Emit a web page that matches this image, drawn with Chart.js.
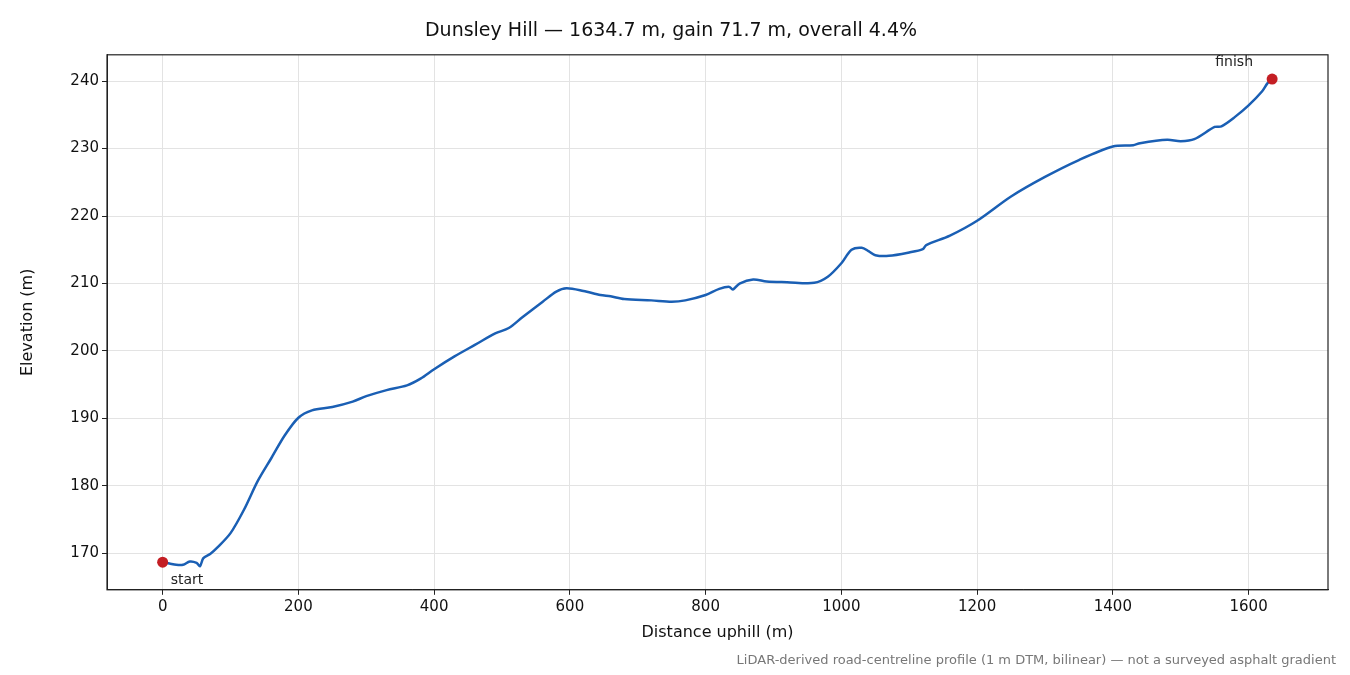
<!DOCTYPE html>
<html><head><meta charset="utf-8">
<script src="https://cdn.jsdelivr.net/npm/chart.js@4"></script>
<style>html,body{margin:0;padding:0;background:#fff}#w{width:1350px;height:675px;position:relative}</style>
</head><body><div id="w"><canvas id="c" width="1350" height="675"></canvas></div>
<script>
const distances=[0,10,20,30,40,50,55,60,70,80,100,120,140,160,180,200,220,250,280,300,330,360,380,400,430,460,490,510,530,560,580,595,620,645,660,680,720,750,770,800,820,835,840,850,870,890,920,960,980,1000,1015,1030,1040,1050,1070,1100,1120,1125,1160,1200,1250,1300,1350,1400,1430,1440,1480,1500,1520,1550,1560,1580,1600,1620,1628,1635];
const elevations=[168.7,168.5,168.3,168.3,168.8,168.6,168.1,169.3,169.9,170.8,173.0,176.5,180.7,184.1,187.5,190.1,191.2,191.7,192.5,193.3,194.2,194.9,195.9,197.3,199.2,200.9,202.6,203.4,205.0,207.3,208.8,209.3,208.9,208.3,208.1,207.7,207.5,207.3,207.5,208.3,209.2,209.5,209.1,210.0,210.6,210.3,210.2,210.1,211.0,213.0,215.0,215.3,214.8,214.2,214.1,214.6,215.1,215.7,217.1,219.3,222.9,225.8,228.3,230.3,230.5,230.8,231.3,231.1,231.4,233.2,233.3,234.7,236.4,238.5,239.7,240.3];
const endpoints=[{x:0,y:168.7,label:'start'},{x:1634.7,y:240.3,label:'finish'}];
const xTicks=[0,200,400,600,800,1000,1200,1400,1600];
const yTicks=[170,180,190,200,210,220,230,240];
const titleText='Dunsley Hill — 1634.7 m, gain 71.7 m, overall 4.4%';
const noteText='LiDAR-derived road-centreline profile (1 m DTM, bilinear) — not a surveyed asphalt gradient';
const F='"DejaVu Sans", sans-serif';
const labels={id:'lbl',afterDraw(ch){const c=ch.ctx,xs=ch.scales.x,ys=ch.scales.y;c.save();c.font='14px '+F;c.fillStyle='#222';
 c.textAlign='left';c.textBaseline='top';c.fillText('start',xs.getPixelForValue(endpoints[0].x)+8,ys.getPixelForValue(endpoints[0].y)+11);
 c.textAlign='center';c.textBaseline='bottom';c.fillText('finish',xs.getPixelForValue(endpoints[1].x)-38,ys.getPixelForValue(endpoints[1].y)-10);
 c.font='13px '+F;c.fillStyle='#777';c.textAlign='right';c.textBaseline='alphabetic';c.fillText(noteText,1336,664);
 const a=ch.chartArea;c.strokeStyle='#222';c.lineWidth=1.2;c.strokeRect(a.left,a.top,a.right-a.left,a.bottom-a.top);c.restore();}};
new Chart(document.getElementById('c'),{type:'scatter',
data:{datasets:[{data:distances.map((d,i)=>({x:d,y:elevations[i]})),showLine:true,borderColor:'#1a5fb4',borderWidth:2.5,pointRadius:0,tension:0.3,order:2},
{data:endpoints.map(p=>({x:p.x,y:p.y})),pointRadius:5.5,pointBackgroundColor:'#c41e24',pointBorderWidth:0,showLine:false,order:1}]},
options:{responsive:false,animation:false,layout:{padding:{left:14,right:22,top:6,bottom:29}},
plugins:{legend:{display:false},tooltip:{enabled:false},title:{display:true,text:titleText,color:'#111',font:{family:F,size:19,weight:'normal'},padding:{top:14,bottom:12}}},
scales:{x:{type:'linear',min:-82,max:1717,afterBuildTicks:s=>{s.ticks=xTicks.map(v=>({value:v}))},
 grid:{color:'#e3e3e3',drawTicks:true,tickColor:'#222',tickLength:5},border:{color:'#222'},
 ticks:{color:'#111',font:{family:F,size:15},maxRotation:0,callback:v=>String(v)},
 title:{display:true,text:'Distance uphill (m)',color:'#111',font:{family:F,size:16},padding:{top:4}}},
 y:{min:164.6,max:243.9,afterBuildTicks:s=>{s.ticks=yTicks.map(v=>({value:v}))},afterFit:s=>{s.width=93},
 grid:{color:'#e3e3e3',tickColor:'#222',tickLength:5},border:{color:'#222'},
 ticks:{color:'#111',font:{family:F,size:15},callback:v=>String(v)},
 title:{display:true,text:'Elevation (m)',color:'#111',font:{family:F,size:16}}}}},
plugins:[labels]});
</script></body></html>
